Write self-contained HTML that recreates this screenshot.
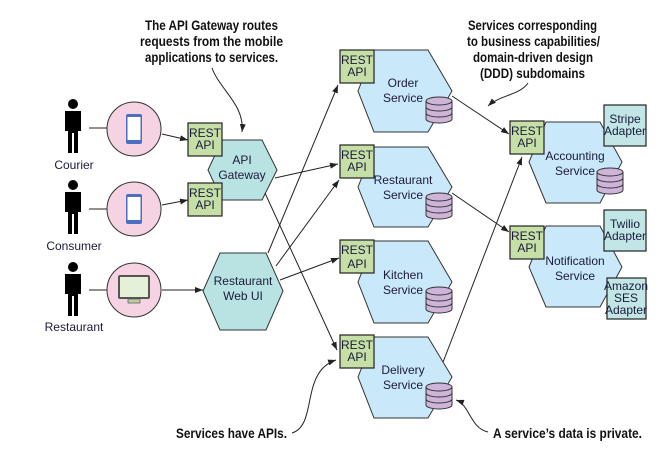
<!DOCTYPE html>
<html><head><meta charset="utf-8"><style>
html,body{margin:0;padding:0;background:#fff}
svg{display:block}
text{font-family:"Liberation Sans",sans-serif;font-size:12px;fill:#1a1a3a}
.a{font-family:"Liberation Sans",sans-serif;font-weight:bold;font-size:14px;fill:#111}
.l{stroke:#222;stroke-width:1;fill:none}
.rest{fill:#c6dfa6;stroke:#222;stroke-width:1.2}
.svc{fill:#c9e8fa;stroke:#333;stroke-width:1}
.gw{fill:#b9e3e3;stroke:#333;stroke-width:1}
.ad{fill:#c2e6e6;stroke:#222;stroke-width:1.2}
</style></head><body>
<svg width="668" height="450" viewBox="0 0 668 450" xmlns="http://www.w3.org/2000/svg">
<defs>
<marker id="ar" markerWidth="8" markerHeight="6" refX="8" refY="3" orient="auto" markerUnits="userSpaceOnUse"><path d="M0,0 L8,3 L0,6 z" fill="#222"/></marker>
<g id="p"><circle cx="0" cy="0" r="5" fill="#000"/><path d="M-8,7 h16 v20 h-3 v22 h-4 v-20 h-2 v20 h-4 v-22 h-3 z" fill="#000"/></g>
<g id="db"><path d="M0,4 v18 a13,4 0 0 0 26,0 v-18" fill="#cdb4d8" stroke="#333"/><ellipse cx="13" cy="4" rx="13" ry="4" fill="#cdb4d8" stroke="#333"/><path d="M0,10 a13,4 0 0 0 26,0 M0,16 a13,4 0 0 0 26,0" fill="none" stroke="#333"/></g>
<g id="ph"><circle cx="0" cy="0" r="27" fill="#f6d3e3" stroke="#333"/><rect x="-8" y="-15" width="16" height="30" rx="2" fill="#4a6fc0"/><rect x="-6.5" y="-12" width="13" height="23" fill="#fff"/></g>
</defs>

<!-- annotations -->
<text class="a" x="145" y="30" textLength="133" lengthAdjust="spacingAndGlyphs">The API Gateway routes</text>
<text class="a" x="140" y="46" textLength="143" lengthAdjust="spacingAndGlyphs">requests from the mobile</text>
<text class="a" x="145" y="62" textLength="133" lengthAdjust="spacingAndGlyphs">applications to services.</text>
<text class="a" x="468" y="30" textLength="129" lengthAdjust="spacingAndGlyphs">Services corresponding</text>
<text class="a" x="467" y="46" textLength="133" lengthAdjust="spacingAndGlyphs">to business capabilities/</text>
<text class="a" x="473" y="62" textLength="120" lengthAdjust="spacingAndGlyphs">domain-driven design</text>
<text class="a" x="480" y="78" textLength="105" lengthAdjust="spacingAndGlyphs">(DDD) subdomains</text>
<text class="a" x="176" y="438" textLength="111" lengthAdjust="spacingAndGlyphs">Services have APIs.</text>
<text class="a" x="493" y="438" textLength="149" lengthAdjust="spacingAndGlyphs">A service’s data is private.</text>
<path class="l" d="M212,68 C220,90 245,105 242,132" marker-end="url(#ar)"/>
<path class="l" d="M528,83 C520,95 500,95 488,106" marker-end="url(#ar)"/>
<path class="l" d="M292,433 C318,425 300,372 336,360" marker-end="url(#ar)"/>
<path class="l" d="M488,432 C470,428 470,405 456,400" marker-end="url(#ar)"/>

<!-- people -->
<use href="#p" x="73" y="104"/><use href="#p" x="73" y="185"/><use href="#p" x="73" y="267"/>
<text x="74" y="169" text-anchor="middle" font-size="11">Courier</text>
<text x="74" y="250" text-anchor="middle" font-size="11">Consumer</text>
<text x="74" y="331" text-anchor="middle" font-size="11">Restaurant</text>
<path class="l" d="M89,128 H107 M89,209 H107 M89,290 H107"/>
<use href="#ph" x="134" y="129"/><use href="#ph" x="134" y="209"/>
<circle cx="134" cy="290" r="27" fill="#f6d3e3" stroke="#333"/>
<rect x="119" y="276" width="30" height="22" rx="1" fill="#e6f0d8" stroke="#555" stroke-width="2"/>
<rect x="128" y="299" width="12" height="4" fill="#b8cfa0" stroke="#555" stroke-width="0.7"/>

<!-- connectors left -->
<path class="l" d="M162,134 L188,140" marker-end="url(#ar)"/>
<path class="l" d="M162,205 L188,200" marker-end="url(#ar)"/>
<path class="l" d="M162,290 L203,290" marker-end="url(#ar)"/>

<!-- gateway / web ui -->
<polygon class="gw" points="208,170 222,140 262,140 277,170 262,200 222,200"/>
<text x="242" y="164" text-anchor="middle">API</text><text x="242" y="179" text-anchor="middle">Gateway</text>
<polygon class="gw" points="203,291 220,253 266,253 283,291 266,330 220,330"/>
<text x="243" y="285" text-anchor="middle">Restaurant</text><text x="243" y="300" text-anchor="middle">Web UI</text>
<rect class="rest" x="188" y="123" width="34" height="33"/>
<text x="205" y="137" text-anchor="middle" font-size="11">REST</text><text x="205" y="149" text-anchor="middle" font-size="11">API</text>
<rect class="rest" x="188" y="183" width="34" height="33"/>
<text x="205" y="197" text-anchor="middle" font-size="11">REST</text><text x="205" y="209" text-anchor="middle" font-size="11">API</text>

<!-- middle connectors -->
<path class="l" d="M275,178 L338,164" marker-end="url(#ar)"/>
<path class="l" d="M265,193 L337,350" marker-end="url(#ar)"/>
<path class="l" d="M268,253 L338,85" marker-end="url(#ar)"/>
<path class="l" d="M276,266 L339,180" marker-end="url(#ar)"/>
<path class="l" d="M280,280 L339,258" marker-end="url(#ar)"/>
<path class="l" d="M452,96 L509,134" marker-end="url(#ar)"/>
<path class="l" d="M452,193 L509,232" marker-end="url(#ar)"/>
<path class="l" d="M440,370 L522,157" marker-end="url(#ar)"/>

<!-- services -->
<g>
<polygon class="svc" points="358,91 374,50 428,50 452,91 428,132 374,132"/>
<text x="403" y="87" text-anchor="middle">Order</text><text x="403" y="102" text-anchor="middle">Service</text>
<use href="#db" x="426" y="97"/>
<rect class="rest" x="340" y="50" width="34" height="33"/>
<text x="357" y="64" text-anchor="middle" font-size="11">REST</text><text x="357" y="76" text-anchor="middle" font-size="11">API</text>
</g>
<g>
<polygon class="svc" points="358,187 374,147 428,147 452,187 428,227 374,227"/>
<text x="403" y="184" text-anchor="middle">Restaurant</text><text x="403" y="199" text-anchor="middle">Service</text>
<use href="#db" x="426" y="193"/>
<rect class="rest" x="340" y="145" width="34" height="33"/>
<text x="357" y="159" text-anchor="middle" font-size="11">REST</text><text x="357" y="171" text-anchor="middle" font-size="11">API</text>
</g>
<g>
<polygon class="svc" points="358,282 374,241 428,241 452,282 428,323 374,323"/>
<text x="403" y="279" text-anchor="middle">Kitchen</text><text x="403" y="294" text-anchor="middle">Service</text>
<use href="#db" x="426" y="287"/>
<rect class="rest" x="340" y="240" width="34" height="33"/>
<text x="357" y="254" text-anchor="middle" font-size="11">REST</text><text x="357" y="268" text-anchor="middle" font-size="11">API</text>
</g>
<g>
<polygon class="svc" points="358,377 374,337 428,337 452,377 428,418 374,418"/>
<text x="403" y="374" text-anchor="middle">Delivery</text><text x="403" y="389" text-anchor="middle">Service</text>
<use href="#db" x="426" y="383"/>
<rect class="rest" x="340" y="335" width="34" height="33"/>
<text x="357" y="349" text-anchor="middle" font-size="11">REST</text><text x="357" y="361" text-anchor="middle" font-size="11">API</text>
</g>
<g>
<polygon class="svc" points="529,162 546,122 600,122 622,162 600,203 546,203"/>
<text x="575" y="160" text-anchor="middle">Accounting</text><text x="575" y="175" text-anchor="middle">Service</text>
<use href="#db" x="597" y="168"/>
<rect class="rest" x="510" y="121" width="34" height="33"/>
<text x="527" y="135" text-anchor="middle" font-size="11">REST</text><text x="527" y="147" text-anchor="middle" font-size="11">API</text>
<rect class="ad" x="604" y="105" width="42" height="41"/>
<text x="625" y="123" text-anchor="middle" font-size="10">Stripe</text><text x="625" y="135" text-anchor="middle" font-size="10">Adapter</text>
</g>
<g>
<polygon class="svc" points="529,267 546,226 600,226 622,267 600,307 546,307"/>
<text x="575" y="265" text-anchor="middle">Notification</text><text x="575" y="280" text-anchor="middle">Service</text>
<rect class="rest" x="510" y="226" width="34" height="33"/>
<text x="527" y="240" text-anchor="middle" font-size="11">REST</text><text x="527" y="252" text-anchor="middle" font-size="11">API</text>
<rect class="ad" x="604" y="210" width="42" height="41"/>
<text x="625" y="228" text-anchor="middle" font-size="10">Twilio</text><text x="625" y="240" text-anchor="middle" font-size="10">Adapter</text>
<rect class="ad" x="607" y="278" width="39" height="41"/>
<text x="626" y="290" text-anchor="middle" font-size="10">Amazon</text><text x="626" y="302" text-anchor="middle" font-size="10">SES</text><text x="626" y="314" text-anchor="middle" font-size="10">Adapter</text>
</g>
</svg>
</body></html>
